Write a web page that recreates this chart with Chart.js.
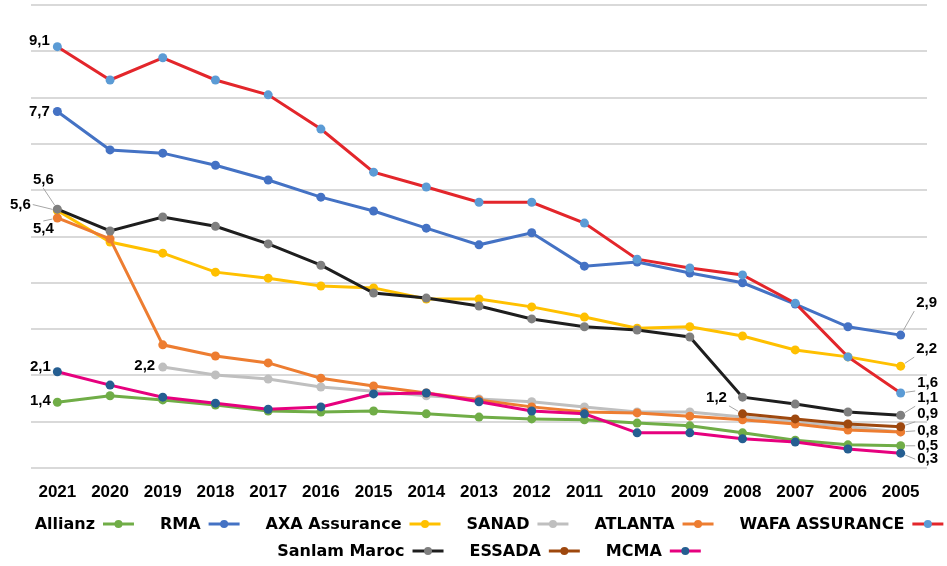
<!DOCTYPE html>
<html>
<head>
<meta charset="utf-8">
<script src="https://cdn.jsdelivr.net/npm/chart.js@4.4.1/dist/chart.umd.min.js"></script>
<style>
  body { margin: 0; background: #fff; }
  canvas { display: block; }
</style>
</head>
<body>
<canvas id="chart" width="947" height="566"></canvas>
<script>
// years, newest first as on the picture
const years = ['2021', '2020', '2019', '2018', '2017', '2016', '2015', '2014', '2013',
    '2012', '2011', '2010', '2009', '2008', '2007', '2006', '2005'];

const allianz = [1.42, 1.56, 1.47, 1.36, 1.23, 1.21, 1.23, 1.17, 1.10, 1.06, 1.04, 0.97, 0.91, 0.76, 0.60, 0.50, 0.48];
const rma = [7.7, 6.87, 6.80, 6.54, 6.22, 5.85, 5.55, 5.18, 4.82, 5.08, 4.36, 4.45, 4.21, 4.00, 3.54, 3.05, 2.87];
const axa = [5.56, 4.88, 4.64, 4.23, 4.10, 3.93, 3.89, 3.65, 3.65, 3.48, 3.26, 3.02, 3.05, 2.85, 2.55, 2.40, 2.20];
const sanad = [null, null, 2.18, 2.01, 1.92, 1.75, 1.66, 1.56, 1.49, 1.43, 1.32, 1.21, 1.21, 1.10, 1.00, 0.89, 0.78];
const atlanta = [5.40, 4.95, 2.66, 2.42, 2.27, 1.94, 1.77, 1.62, 1.47, 1.32, 1.21, 1.19, 1.12, 1.04, 0.95, 0.82, 0.78];
const wafa = [9.1, 8.38, 8.86, 8.38, 8.06, 7.32, 6.39, 6.07, 5.74, 5.74, 5.29, 4.51, 4.32, 4.17, 3.56, 2.40, 1.62];
const sanlam = [5.59, 5.12, 5.42, 5.22, 4.84, 4.38, 3.78, 3.67, 3.50, 3.22, 3.05, 2.98, 2.83, 1.53, 1.38, 1.21, 1.14];
const essada = [null, null, null, null, null, null, null, null, null, null, null, null, null, 1.17, 1.06, 0.95, 0.89];
const mcma = [2.08, 1.79, 1.53, 1.40, 1.27, 1.32, 1.60, 1.62, 1.43, 1.23, 1.17, 0.76, 0.76, 0.63, 0.56, 0.41, 0.32];

const seriesNames = ['Allianz', 'RMA', 'AXA Assurance', 'SANAD', 'ATLANTA', 'WAFA ASSURANCE',
    'Sanlam Maroc', 'ESSADA', 'MCMA'];
const seriesValues = [allianz, rma, axa, sanad, atlanta, wafa, sanlam, essada, mcma];

const lineColors = ['#70ad47', '#4472c4', '#ffc000', '#bfbfbf', '#ed7d31', '#e3262b', '#1e1e1e', '#9e480e', '#e6007e'];
const markerColors = ['#70ad47', '#4472c4', '#ffc000', '#bfbfbf', '#ed7d31', '#5b9bd5', '#7f7f7f', '#9e480e', '#255e91'];

// which points carry a value label, and where the label sits relative to the point
const pointLabels = [
    { s: 5, i: 0, dx: -18, dy: -6 },
    { s: 1, i: 0, dx: -18, dy: 0 },
    { s: 6, i: 0, dx: -14, dy: -29, leader: true },
    { s: 2, i: 0, dx: -37, dy: -6, leader: true },
    { s: 4, i: 0, dx: -14, dy: 11, leader: true },
    { s: 8, i: 0, dx: -17, dy: -5 },
    { s: 0, i: 0, dx: -17, dy: -1 },
    { s: 3, i: 2, dx: -18, dy: -1 },
    { s: 7, i: 13, dx: -26, dy: -16, leader: true },
    { s: 1, i: 16, dx: 26, dy: -32, leader: true },
    { s: 2, i: 16, dx: 26, dy: -17, leader: true },
    { s: 5, i: 16, dx: 27, dy: -10, leader: true },
    { s: 6, i: 16, dx: 27, dy: -17, leader: true },
    { s: 7, i: 16, dx: 27, dy: -13, leader: true },
    { s: 4, i: 16, dx: 27, dy: -1, leader: true },
    { s: 0, i: 16, dx: 27, dy: 0, leader: true },
    { s: 8, i: 16, dx: 27, dy: 6, leader: true }
];

const numFont = 'bold 15px "Liberation Sans", Arial, sans-serif';
const legendFont = 'bold 16px "DejaVu Sans", sans-serif';

function fmt(v) {
    return v.toFixed(1).replace('.', ',');
}

const valueLabels = {
    id: 'valueLabels',
    afterDatasetsDraw(chart) {
        const ctx = chart.ctx;
        ctx.save();
        ctx.font = numFont;
        ctx.textAlign = 'center';
        ctx.textBaseline = 'middle';
        pointLabels.forEach(l => {
            const el = chart.getDatasetMeta(l.s).data[l.i];
            const v = seriesValues[l.s][l.i];
            const tx = el.x + l.dx, ty = el.y + l.dy;
            const text = fmt(v);
            if (l.leader) {
                const w = ctx.measureText(text).width / 2 + 2;
                // end of the leader at the side of the label facing the point
                let ex = tx, ey = ty;
                if (Math.abs(l.dx) > w + 2) ex = tx - Math.sign(l.dx) * w;
                if (Math.abs(l.dy) > 9) ey = ty - Math.sign(l.dy) * 8;
                const ang = Math.atan2(ey - el.y, ex - el.x);
                ctx.strokeStyle = '#a6a6a6';
                ctx.lineWidth = 1;
                ctx.beginPath();
                ctx.moveTo(el.x + Math.cos(ang) * 5, el.y + Math.sin(ang) * 5);
                ctx.lineTo(ex, ey);
                ctx.stroke();
            }
            ctx.fillStyle = '#000';
            ctx.fillText(text, tx, ty);
        });
        ctx.restore();
    }
};

// legend as on the picture: name first, then the line sample
const textFirstLegend = {
    id: 'textFirstLegend',
    afterDraw(chart) {
        const ctx = chart.ctx;
        const rows = [[0, 1, 2, 3, 4, 5], [6, 7, 8]];
        const rowY = [524, 551];
        const centerX = 489, gap = 26, symGap = 8, symW = 31;
        ctx.save();
        ctx.font = legendFont;
        ctx.textBaseline = 'middle';
        rows.forEach((row, r) => {
            const widths = row.map(k => ctx.measureText(seriesNames[k]).width + symGap + symW);
            const total = widths.reduce((a, b) => a + b, 0) + gap * (row.length - 1);
            let x = centerX - total / 2;
            row.forEach((k, j) => {
                const y = rowY[r];
                const tw = ctx.measureText(seriesNames[k]).width;
                ctx.fillStyle = '#000';
                ctx.textAlign = 'left';
                ctx.fillText(seriesNames[k], x, y + 1);
                const sx = x + tw + symGap;
                ctx.strokeStyle = lineColors[k];
                ctx.lineWidth = 3;
                ctx.beginPath();
                ctx.moveTo(sx, y);
                ctx.lineTo(sx + symW, y);
                ctx.stroke();
                ctx.fillStyle = markerColors[k];
                ctx.beginPath();
                ctx.arc(sx + symW / 2, y, 4, 0, Math.PI * 2);
                ctx.fill();
                x += widths[j] + gap;
            });
        });
        ctx.restore();
    }
};

new Chart(document.getElementById('chart').getContext('2d'), {
    type: 'line',
    data: {
        labels: years,
        datasets: seriesNames.map((name, k) => ({
            label: name,
            data: seriesValues[k],
            borderColor: lineColors[k],
            backgroundColor: markerColors[k],
            pointBackgroundColor: markerColors[k],
            pointBorderColor: markerColors[k],
            pointRadius: 4.5,
            pointBorderWidth: 0,
            borderWidth: 3,
            tension: 0,
            spanGaps: false,
            order: seriesNames.length - k   // later series drawn on top
        }))
    },
    options: {
        responsive: false,
        animation: false,
        devicePixelRatio: 1,
        layout: { padding: { left: 31, right: 20, top: 5, bottom: 68 } },
        plugins: {
            legend: { display: false },
            tooltip: { enabled: false }
        },
        scales: {
            x: {
                offset: true,
                grid: { display: false },
                border: { display: false },
                ticks: {
                    color: '#000',
                    font: { family: '"Liberation Sans", Arial, sans-serif', size: 17, weight: 'bold' },
                    padding: 6,
                    maxRotation: 0,
                    autoSkip: false
                },
                afterFit(scale) { scale.height = 30; }
            },
            y: {
                min: 0,
                max: 10,
                ticks: { display: false, stepSize: 1 },
                grid: { color: '#d9d9d9', lineWidth: 2, drawTicks: false },
                border: { display: false },
                afterFit(scale) { scale.width = 0; }
            }
        }
    },
    plugins: [valueLabels, textFirstLegend]
});
</script>
</body>
</html>
